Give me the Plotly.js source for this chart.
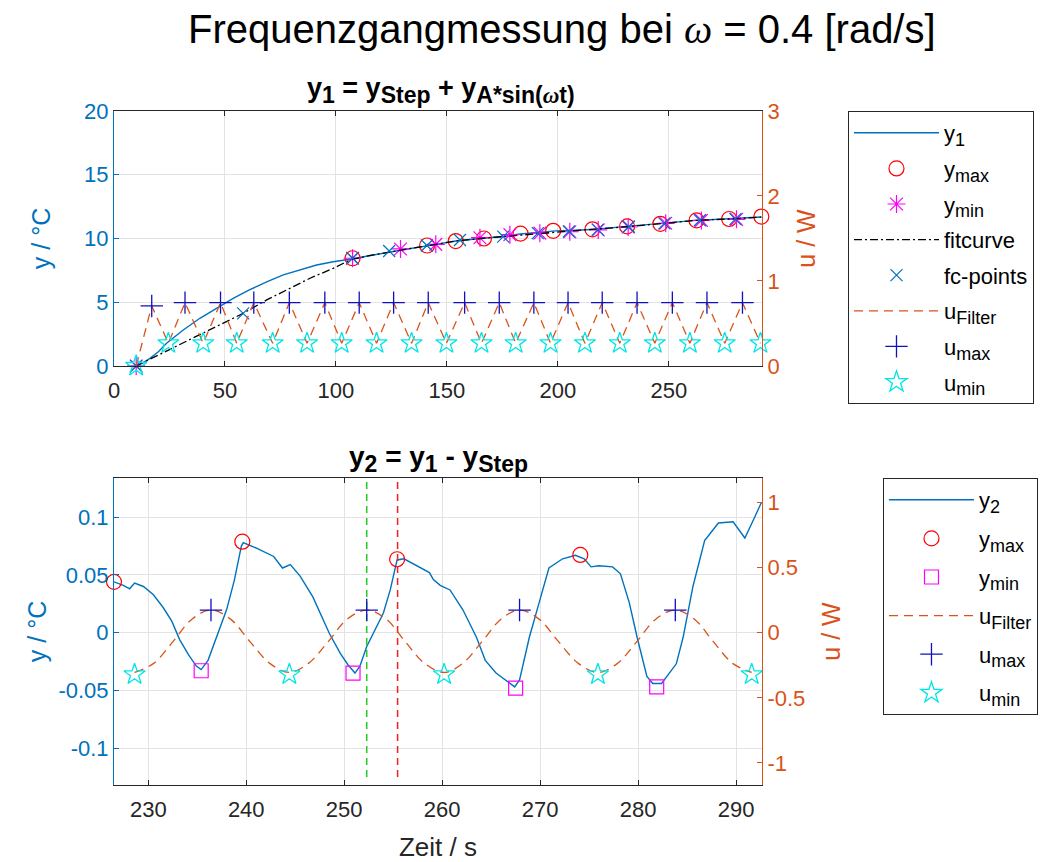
<!DOCTYPE html>
<html>
<head>
<meta charset="utf-8">
<script src="https://cdn.plot.ly/plotly-3.0.1.min.js"></script>
<style>html,body{margin:0;padding:0;background:#fff;}#plot{width:1041px;height:862px;}</style>
</head>
<body>
<div id="plot"></div>
<script>
// ---------- top plot data ----------
var t_y1 = [10, 13, 16.2, 20, 23.7, 31.2, 38.7, 46.2, 53.7, 61, 68.8, 76.3, 83.8, 91.3, 98.8, 106.3, 115, 122.8, 133, 143.8, 154, 165, 175, 183, 191, 199, 208, 217, 231, 247, 262, 277, 291.7];
var y1    = [0, 0.25, 0.6, 1.12, 1.78, 2.82, 3.74, 4.52, 5.3, 5.96, 6.6, 7.14, 7.53, 7.92, 8.18, 8.37, 8.65, 8.9, 9.2, 9.5, 9.8, 10.0, 10.15, 10.35, 10.45, 10.6, 10.65, 10.72, 10.95, 11.18, 11.42, 11.55, 11.68];

var t_fit = [10, 20, 30, 40, 50, 58.2, 68.8, 77.8, 88.3, 98.8, 106.3, 115, 122.8, 133, 143.8, 154, 165, 175, 191, 208, 231, 247, 262, 277, 291.7];
var y_fit = [0, 0.85, 1.7, 2.6, 3.45, 4.13, 5.18, 5.96, 6.88, 7.66, 8.31, 8.65, 8.9, 9.2, 9.5, 9.8, 10.0, 10.15, 10.42, 10.62, 10.92, 11.17, 11.42, 11.53, 11.68];

var t_fc = [10, 58.2, 107.5, 124, 141, 155.9, 175.4, 191, 205, 218, 232, 248, 264, 280];
var y_fc = [0, 4.13, 8.45, 9.02, 9.45, 9.88, 10.14, 10.42, 10.55, 10.7, 10.92, 11.18, 11.43, 11.52];

var t_ymax1 = [107.5, 141.1, 154, 166.7, 183.2, 197.9, 215.6, 231.2, 246.2, 262.5, 277.2, 291.7];
var ymax1   = [8.45, 9.45, 9.8, 10.0, 10.38, 10.6, 10.72, 10.95, 11.15, 11.42, 11.53, 11.72];

var t_ymin1 = [10, 107.5, 129.1, 145, 164.9, 178.4, 191.9, 205.4, 218.2, 231.7, 248.6, 264.7, 280.5];
var ymin1   = [0, 8.45, 9.18, 9.54, 10.06, 10.3, 10.42, 10.53, 10.67, 10.9, 11.19, 11.42, 11.5];

var t_u1 = [10, 17, 24.5, 32, 40.2, 48, 55.3, 63, 71.5, 79, 87, 95, 102.6, 110.5, 118.3, 126, 134.1, 141.6, 149.8, 158, 165.6, 173.6, 181, 189.2, 196.7, 204.6, 212.2, 220, 227.9, 235.7, 243.7, 251.6, 259.5, 267.2, 275.2, 283.2, 291.3];
var u1   = [0, 0.706, 0.267, 0.745, 0.267, 0.745, 0.267, 0.745, 0.267, 0.745, 0.267, 0.745, 0.267, 0.745, 0.267, 0.745, 0.267, 0.745, 0.267, 0.745, 0.267, 0.745, 0.267, 0.745, 0.267, 0.745, 0.267, 0.745, 0.267, 0.745, 0.267, 0.745, 0.267, 0.745, 0.267, 0.745, 0.267];

var t_umax1 = [17, 32, 48, 63, 79, 95, 110.5, 126, 141.6, 158, 173.6, 189.2, 204.6, 220, 235.7, 251.6, 267.2, 283.2];
var umax1   = [0.706, 0.745, 0.745, 0.745, 0.745, 0.745, 0.745, 0.745, 0.745, 0.745, 0.745, 0.745, 0.745, 0.745, 0.745, 0.745, 0.745, 0.745];

var t_umin1 = [10, 24.5, 40.2, 55.3, 71.5, 87, 102.6, 118.3, 134.1, 149.8, 165.6, 181, 196.7, 212.2, 227.9, 243.7, 259.5, 275.2, 291.3];
var umin1   = [0, 0.267, 0.267, 0.267, 0.267, 0.267, 0.267, 0.267, 0.267, 0.267, 0.267, 0.267, 0.267, 0.267, 0.267, 0.267, 0.267, 0.267, 0.267];

// ---------- bottom plot data ----------
var t_y2 = [226.5, 227.45, 228.1, 228.6, 229.5, 230.5, 231.5, 232.4, 233.2, 234.1, 234.9, 235.4, 236.1, 237.0, 238.0, 238.8, 239.5, 239.7, 241.1, 242.8, 243.7, 244.5, 245.5, 246.8, 248.5, 249.6, 250.4, 251.1, 251.6, 252.3, 254.0, 254.7, 255.4, 256.1, 257.7, 258.7, 259.1, 259.8, 260.8, 262.1, 263.5, 264.4, 265.5, 266.9, 267.4, 267.9, 268.9, 269.9, 270.9, 272.3, 273.6, 274.5, 275.2, 276.0, 277.4, 278.2, 279.1, 279.9, 280.9, 281.5, 282.4, 283.9, 284.6, 285.6, 286.8, 287.0, 288.2, 289.7, 290.9, 291.9, 292.6];
var y2   = [0.044, 0.041, 0.038, 0.043, 0.040, 0.033, 0.022, 0.010, -0.006, -0.019, -0.029, -0.032, -0.024, -0.004, 0.020, 0.046, 0.075, 0.078, 0.073, 0.066, 0.056, 0.059, 0.049, 0.031, -0.001, -0.018, -0.028, -0.035, -0.029, -0.012, 0.017, 0.037, 0.063, 0.064, 0.057, 0.052, 0.046, 0.041, 0.037, 0.020, -0.004, -0.024, -0.035, -0.044, -0.047, -0.041, -0.004, 0.026, 0.056, 0.064, 0.067, 0.064, 0.057, 0.058, 0.057, 0.051, 0.026, -0.004, -0.038, -0.044, -0.044, -0.027, -0.004, 0.040, 0.080, 0.082, 0.095, 0.096, 0.082, 0.100, 0.113];

var t_ymax2 = [226.5, 239.6, 255.4, 274.1, 292.9];
var ymax2   = [0.044, 0.0788, 0.0636, 0.0673, 0.1134];

var t_ymin2 = [235.4, 250.9, 267.5, 281.9];
var ymin2   = [-0.033, -0.035, -0.048, -0.047];

var t_u2 = [228.6, 230.55, 232.5, 234.45, 236.4, 238.4, 240.4, 242.4, 244.4, 246.35, 248.35, 250.3, 252.3, 254.3, 256.25, 258.2, 260.2, 262.1, 264.05, 266.0, 267.9, 269.9, 271.9, 273.9, 275.9, 277.9, 279.85, 281.8, 283.8, 285.75, 287.7, 289.65, 291.6];
var u2   = [-0.305, -0.235, -0.07, 0.105, 0.175, 0.105, -0.07, -0.235, -0.305, -0.235, -0.07, 0.105, 0.175, 0.105, -0.07, -0.235, -0.305, -0.235, -0.07, 0.105, 0.175, 0.105, -0.07, -0.235, -0.305, -0.235, -0.07, 0.105, 0.175, 0.105, -0.07, -0.235, -0.305];

var t_umax2 = [236.4, 252.3, 267.9, 283.8];
var umax2   = [0.175, 0.175, 0.175, 0.175];

var t_umin2 = [228.6, 244.4, 260.2, 275.9, 291.6];
var umin2   = [-0.32, -0.32, -0.32, -0.32, -0.32];

var t_green = [252.3, 252.3];
var t_red   = [255.45, 255.45];
var y_vline = [-0.125, 0.14];

// ---------- styles ----------
var BLUE = '#0072BD', ORANGE = '#D95319';
var FONT = 'Liberation Sans, Arial, Helvetica, sans-serif';
var OM = '<span style="font-family:\'Liberation Serif\',serif;font-style:italic">ω</span>';
function sb(s) { return '<sub><span style="font-size:23px">' + s + '</span></sub>'; }
function ls(s) { return '<sub><span style="font-size:18px">' + s + '</span></sub>'; }

var traces = [
  {x: t_y1, y: y1, mode: 'lines', name: 'y' + ls('1'), line: {color: BLUE, width: 1.4}, xaxis: 'x', yaxis: 'y', legend: 'legend', legendgroup: 'a1'},
  {x: t_ymax1, y: ymax1, mode: 'markers', name: 'y' + ls('max'), marker: {symbol: 'circle-open', size: 15, color: '#FF0000', line: {width: 1.2}}, xaxis: 'x', yaxis: 'y', cliponaxis: false, legend: 'legend', legendgroup: 'a2'},
  {x: t_ymin1, y: ymin1, mode: 'markers', name: 'y' + ls('min'), marker: {symbol: 'asterisk-open', size: 15, color: '#FF00FF', line: {width: 1.2}}, xaxis: 'x', yaxis: 'y', cliponaxis: false, legend: 'legend', legendgroup: 'a3'},
  {x: t_fit, y: y_fit, mode: 'lines', name: 'fitcurve', line: {color: '#000000', width: 1.3, dash: '8px,3px,2px,3px'}, xaxis: 'x', yaxis: 'y', legend: 'legend', legendgroup: 'a4'},
  {x: t_fc, y: y_fc, mode: 'markers', name: 'fc-points', marker: {symbol: 'x-thin-open', size: 12, color: BLUE, line: {width: 1.2}}, xaxis: 'x', yaxis: 'y', cliponaxis: false, legend: 'legend', legendgroup: 'a5'},
  {x: t_u1, y: u1, mode: 'lines', name: 'u' + ls('Filter'), line: {color: ORANGE, width: 1.3, dash: '9px,6px'}, xaxis: 'x', yaxis: 'y2', legend: 'legend', legendgroup: 'a6'},
  {x: t_umax1, y: umax1, mode: 'markers', name: 'u' + ls('max'), marker: {symbol: 'cross-thin-open', size: 16, color: '#1010C0', line: {width: 1.3}}, xaxis: 'x', yaxis: 'y2', cliponaxis: false, legend: 'legend', legendgroup: 'a7'},
  {x: t_umin1, y: umin1, mode: 'markers', name: 'u' + ls('min'), marker: {symbol: 'star-open', size: 16, color: '#00E5E5', line: {width: 1.3}}, xaxis: 'x', yaxis: 'y2', cliponaxis: false, legend: 'legend', legendgroup: 'a8'},

  {x: t_y2, y: y2, mode: 'lines', name: 'y' + ls('2'), line: {color: BLUE, width: 1.4}, xaxis: 'x2', yaxis: 'y3', legend: 'legend2', legendgroup: 'b1'},
  {x: t_ymax2, y: ymax2, mode: 'markers', name: 'y' + ls('max'), marker: {symbol: 'circle-open', size: 15, color: '#FF0000', line: {width: 1.2}}, xaxis: 'x2', yaxis: 'y3', cliponaxis: false, legend: 'legend2', legendgroup: 'b2'},
  {x: t_ymin2, y: ymin2, mode: 'markers', name: 'y' + ls('min'), marker: {symbol: 'square-open', size: 14, color: '#FF00FF', line: {width: 1.2}}, xaxis: 'x2', yaxis: 'y3', cliponaxis: false, legend: 'legend2', legendgroup: 'b3'},
  {x: t_u2, y: u2, mode: 'lines', name: 'u' + ls('Filter'), line: {color: ORANGE, width: 1.3, dash: '9px,6px', shape: 'spline'}, xaxis: 'x2', yaxis: 'y4', legend: 'legend2', legendgroup: 'b4'},
  {x: t_umax2, y: umax2, mode: 'markers', name: 'u' + ls('max'), marker: {symbol: 'cross-thin-open', size: 16, color: '#1010C0', line: {width: 1.3}}, xaxis: 'x2', yaxis: 'y4', cliponaxis: false, legend: 'legend2', legendgroup: 'b5'},
  {x: t_umin2, y: umin2, mode: 'markers', name: 'u' + ls('min'), marker: {symbol: 'star-open', size: 16, color: '#00E5E5', line: {width: 1.3}}, xaxis: 'x2', yaxis: 'y4', cliponaxis: false, legend: 'legend2', legendgroup: 'b6'},
  {x: t_green, y: y_vline, mode: 'lines', showlegend: false, line: {color: '#22CC22', width: 1.5, dash: '7px,5px'}, xaxis: 'x2', yaxis: 'y3'},
  {x: t_red, y: y_vline, mode: 'lines', showlegend: false, line: {color: '#EE2222', width: 1.5, dash: '7px,5px'}, xaxis: 'x2', yaxis: 'y3'}
];

var GRID = '#e3e3e3';
var TF = 22;
var xbase = {showgrid: true, gridcolor: GRID, zeroline: false, showline: true, linecolor: '#262626', linewidth: 1, mirror: 'ticks', ticks: 'inside', ticklen: 5, tickcolor: '#262626', ticklabelstandoff: 5, tickfont: {size: TF, color: '#262626', family: FONT}};
function yleft(o) { return Object.assign({showgrid: true, gridcolor: GRID, zeroline: false, showline: true, linecolor: BLUE, linewidth: 1, ticks: 'inside', ticklen: 5, tickcolor: BLUE, tickfont: {size: TF, color: BLUE, family: FONT}}, o); }
function yright(o) { return Object.assign({showgrid: false, zeroline: false, showline: true, linecolor: ORANGE, linewidth: 1, ticks: 'inside', ticklen: 5, tickcolor: ORANGE, side: 'right', tickfont: {size: TF, color: ORANGE, family: FONT}}, o); }

var LEGFONT = {size: 22, color: '#000', family: FONT};

var layout = {
  width: 1041, height: 862,
  margin: {l: 114, r: 279, t: 111, b: 77, autoexpand: false},
  paper_bgcolor: '#ffffff', plot_bgcolor: '#ffffff',
  font: {family: FONT, color: '#262626'},
  xaxis: Object.assign({}, xbase, {domain: [0, 1], anchor: 'y', range: [0, 292], tickvals: [0, 50, 100, 150, 200, 250]}),
  yaxis: yleft({domain: [0.6217, 1], anchor: 'x', range: [0, 20], tickvals: [0, 5, 10, 15, 20], title: {text: 'y / °C', font: {size: 25, color: BLUE}, standoff: 26}}),
  yaxis2: yright({overlaying: 'y', anchor: 'x', range: [0, 3], tickvals: [0, 1, 2, 3], title: {text: 'u / W', font: {size: 25, color: ORANGE}, standoff: 18}}),
  xaxis2: Object.assign({}, xbase, {domain: [0, 1], anchor: 'y3', range: [226.5, 292.65], tickvals: [230, 240, 250, 260, 270, 280, 290], title: {text: 'Zeit / s', font: {size: 26, color: '#262626'}, standoff: 16}}),
  yaxis3: yleft({domain: [0, 0.4555], anchor: 'x2', range: [-0.132, 0.134], tickvals: [-0.1, -0.05, 0, 0.05, 0.1], ticktext: ['-0.1', '-0.05', '0', '0.05', '0.1'], title: {text: 'y / °C', font: {size: 25, color: BLUE}, standoff: 4}}),
  yaxis4: yright({overlaying: 'y3', anchor: 'x2', range: [-1.17, 1.19], tickvals: [-1, -0.5, 0, 0.5, 1], ticktext: ['-1', '-0.5', '0', '0.5', '1'], title: {text: 'u / W', font: {size: 25, color: ORANGE}, standoff: 18}}),
  legend: {x: 1.1327, xanchor: 'left', y: 1, yanchor: 'top', bgcolor: '#ffffff', bordercolor: '#262626', borderwidth: 1, font: LEGFONT, itemwidth: 85, tracegroupgap: 4},
  legend2: {x: 1.1867, xanchor: 'left', y: 0.4555, yanchor: 'top', bgcolor: '#ffffff', bordercolor: '#262626', borderwidth: 1, font: LEGFONT, itemwidth: 85, tracegroupgap: 7},
  annotations: [
    {text: 'Frequenzgangmessung bei ' + OM + ' = 0.4 [rad/s]', xref: 'paper', yref: 'paper', x: 0.692, y: 1.1202, xanchor: 'center', yanchor: 'middle', showarrow: false, font: {size: 40, color: '#000', family: FONT}},
    {text: '<b>y' + sb('1') + ' = y' + sb('Step') + ' + y' + sb('A*sin(' + OM + 't)') + '</b>', xref: 'paper', yref: 'paper', x: 0.505, y: 1.031, xanchor: 'center', yanchor: 'middle', showarrow: false, font: {size: 27, color: '#000', family: FONT}},
    {text: '<b>y' + sb('2') + ' = y' + sb('1') + ' - y' + sb('Step') + '</b>', xref: 'paper', yref: 'paper', x: 0.5, y: 0.4835, xanchor: 'center', yanchor: 'middle', showarrow: false, font: {size: 28, color: '#000', family: FONT}}
  ]
};

Plotly.newPlot('plot', traces, layout, {displayModeBar: false, staticPlot: true});
</script>
</body>
</html>
